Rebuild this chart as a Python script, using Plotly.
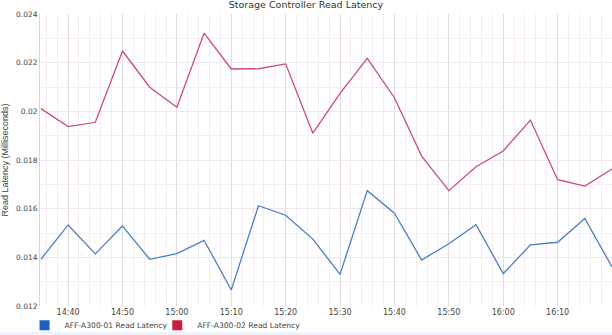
import plotly.graph_objects as go

# Sample timestamps, one every 5 minutes
times = ["14:35", "14:40", "14:45", "14:50", "14:55", "15:00", "15:05", "15:10",
         "15:15", "15:20", "15:25", "15:30", "15:35", "15:40", "15:45", "15:50",
         "15:55", "16:00", "16:05", "16:10", "16:15", "16:20"]

ctrl01 = [0.01392, 0.01533, 0.01414, 0.01529, 0.01392, 0.01415, 0.01470, 0.01266,
          0.01612, 0.01573, 0.01475, 0.01330, 0.01674, 0.01581, 0.01389, 0.01456,
          0.01534, 0.01333, 0.01451, 0.01462, 0.01560, 0.01361]

ctrl02 = [0.02011, 0.01937, 0.01955, 0.02248, 0.02099, 0.02017, 0.02321, 0.02174,
          0.02175, 0.02195, 0.01910, 0.02074, 0.02218, 0.02056, 0.01816, 0.01674,
          0.01772, 0.01837, 0.01964, 0.01719, 0.01693, 0.01763]

names = ["AFF-A300-01 Read Latency", "AFF-A300-02 Read Latency"]
line_colors = ["#4a7fc1", "#c9506b"]
swatch_colors = ["#1f5fbf", "#c8203f"]
legend_ids = ["legend", "legend2"]

y_ticks = [0.012, 0.014, 0.016, 0.018, 0.02, 0.022, 0.024]
y_tick_text = ["0.012", "0.014", "0.016", "0.018", "0.02", "0.022", "0.024"]

day = "2024-01-01 "
x = [day + t for t in times]

fig = go.Figure()
for series, name, col in zip([ctrl01, ctrl02], names, line_colors):
    fig.add_trace(go.Scatter(x=x, y=series, mode="lines", name=name,
                             line=dict(color=col, width=1.3), showlegend=False))

# Square legend swatches, one legend box per series
for name, col, lg in zip(names, swatch_colors, legend_ids):
    fig.add_trace(go.Scatter(x=[None], y=[None], mode="markers", name=name,
                             legend=lg,
                             marker=dict(symbol="square", size=10, color=col)))

legend_style = dict(orientation="h", xanchor="left", y=-0.016, yanchor="top",
                    font=dict(family="DejaVu Sans", size=7.6, color="#444444"),
                    itemwidth=30, bgcolor="rgba(0,0,0,0)")

fig.update_layout(
    width=612, height=335,
    margin=dict(l=40, r=0, t=14, b=29, autoexpand=False),
    paper_bgcolor="white", plot_bgcolor="white",
    title=dict(text="Storage Controller Read Latency", x=0.5, xanchor="center",
               y=0.995, yanchor="top",
               font=dict(family="DejaVu Sans", size=9.5, color="#333333")),
    font=dict(family="DejaVu Sans", color="#555555"),
    legend=dict(x=-0.027, **legend_style),
    legend2=dict(x=0.205, **legend_style),
    xaxis=dict(
        type="date",
        range=[day + "14:34:50", day + "16:20:00"],
        tick0=day + "14:40", dtick=600000, tickformat="%H:%M",
        tickfont=dict(family="DejaVu Sans", size=8, color="#444444"),
        showgrid=True, gridcolor="#e2dae3", gridwidth=1,
        minor=dict(dtick=120000, tick0=day + "14:40", showgrid=True,
                   gridcolor="#f4ecef", gridwidth=1),
        zeroline=False, showline=False, ticks="",
    ),
    yaxis=dict(
        range=[0.012, 0.024], tickvals=y_ticks, ticktext=y_tick_text,
        tickfont=dict(family="DejaVu Sans", size=7.5, color="#444444"),
        title=dict(text="Read Latency (Milliseconds)", standoff=6,
                   font=dict(family="Liberation Sans", size=9, color="#444444")),
        showgrid=True, gridcolor="#f1e6ea", gridwidth=1,
        minor=dict(dtick=0.001, showgrid=True, gridcolor="#f6eef1", gridwidth=1),
        zeroline=False, showline=True, linecolor="#d9d3dc", linewidth=1, ticks="",
    ),
    shapes=[dict(type="rect", xref="paper", yref="paper", x0=-0.07, x1=1.0,
                 y0=-0.099, y1=-0.088, fillcolor="#eef3fb", line=dict(width=0),
                 layer="below")],
)

fig.write_html("out.html")
